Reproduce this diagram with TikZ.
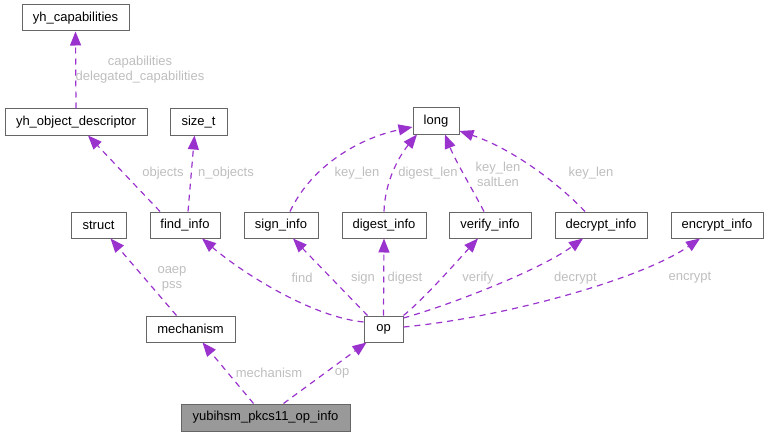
\documentclass[tikz,border=0pt]{standalone}
\usepackage{fontspec}
\setmainfont{Liberation Sans}
\usetikzlibrary{arrows.meta}
\definecolor{edgec}{HTML}{9A32CD}
\definecolor{boxc}{HTML}{666666}
\definecolor{lblc}{HTML}{BEBEBE}
\definecolor{mainfill}{HTML}{999999}
\tikzset{
  box/.style={draw=boxc, fill=white, line width=1pt, minimum height=26pt, inner sep=0pt,
    font=\fontsize{13}{15}\selectfont},
  mainbox/.style={box, fill=mainfill},
  edge/.style={draw=edgec, line width=1.2pt, dash pattern=on 6pt off 5pt,
    -{Triangle[length=14pt,width=11pt,fill=edgec]}},
  lbl/.style={text=lblc, font=\fontsize{13}{15}\selectfont, align=center, inner sep=0pt}
}
\begin{document}
\begin{tikzpicture}[x=1pt,y=-1pt]
\useasboundingbox (0,0) rectangle (769,436);
% nodes
\node[box, minimum width=107pt] (caps) at (75.5,18) {yh\_capabilities};
\node[box, minimum width=142pt] (objdesc) at (76,122) {yh\_object\_descriptor};
\node[box, minimum width=57pt] (sizet) at (198.5,122) {size\_t};
\node[box, minimum width=46pt] (long) at (436,121) {long};
\node[box, minimum width=55pt] (struct) at (98.5,225) {struct};
\node[box, minimum width=70pt] (find) at (185,225) {find\_info};
\node[box, minimum width=74pt] (sign) at (281,225) {sign\_info};
\node[box, minimum width=84pt] (digest) at (384,225) {digest\_info};
\node[box, minimum width=82pt] (verify) at (490,225) {verify\_info};
\node[box, minimum width=92pt] (decrypt) at (601,225) {decrypt\_info};
\node[box, minimum width=92pt] (encrypt) at (717,225) {encrypt\_info};
\node[box, minimum width=89pt] (mech) at (190.5,329) {mechanism};
\node[box, minimum width=39pt] (op) at (383.5,329) {op};
\node[mainbox, minimum width=169pt, minimum height=27pt] (opinfo) at (265.5,417.5) {yubihsm\_pkcs11\_op\_info};
% edges
\draw[edge] (objdesc.north) -- (caps.south);
\draw[edge] ([xshift=-25pt]find.north) -- ([xshift=12pt]objdesc.south);
\draw[edge] ([xshift=3pt]find.north) -- ([xshift=-4pt]sizet.south);
\draw[edge] ([xshift=9pt]sign.north) .. controls (312,165) and (360,138) .. ([yshift=-6pt]long.west);
\draw[edge] (digest.north) .. controls (385,180) and (400,155) .. ([xshift=-19pt]long.south);
\draw[edge] ([xshift=-6pt]verify.north) .. controls (470,185) and (455,160) .. ([xshift=9pt]long.south);
\draw[edge] ([xshift=-16pt]decrypt.north) .. controls (555,180) and (510,148) .. ([yshift=-10pt]long.east);
\draw[edge] ([xshift=-14pt]mech.north) -- ([xshift=12pt]struct.south);
\draw[edge] ([yshift=7pt]op.west) .. controls (313,317) and (245,275) .. ([xshift=17pt]find.south);
\draw[edge] ([xshift=-16pt]op.north) -- ([xshift=12pt]sign.south);
\draw[edge] (op.north) -- (digest.south);
\draw[edge] (op.north east) .. controls (425,298) and (460,258) .. ([xshift=-12pt]verify.south);
\draw[edge] ([yshift=11pt]op.east) .. controls (450,305) and (540,270) .. ([xshift=-18pt]decrypt.south);
\draw[edge] ([yshift=2pt]op.east) .. controls (500,318) and (640,280) .. ([xshift=-17pt]encrypt.south);
\draw[edge] ([xshift=-12pt]opinfo.north) -- ([xshift=12pt]mech.south);
\draw[edge] ([xshift=18pt]opinfo.north) -- ([xshift=-17pt]op.south);
% labels
\node[lbl] (l1) at (140,70) {capabilities\\delegated\_capabilities};
\node[lbl] (l2) at (163,173) {objects};
\node[lbl] (l3) at (226,173) {n\_objects};
\node[lbl] (l4) at (357,173) {key\_len};
\node[lbl] (l5) at (428,173) {digest\_len};
\node[lbl] (l6) at (498,174) {key\_len\\saltLen};
\node[lbl] (l7) at (591,173) {key\_len};
\node[lbl] (l8) at (172,278.5) {oaep\\pss};
\node[lbl] (l9) at (302,278) {find};
\node[lbl] (l10) at (363,278) {sign};
\node[lbl] (l11) at (405,278) {digest};
\node[lbl] (l12) at (478,278) {verify};
\node[lbl] (l13) at (575.5,278) {decrypt};
\node[lbl] (l14) at (690,278) {encrypt};
\node[lbl] (l15) at (269,373) {mechanism};
\node[lbl] (l16) at (342,373) {op};
\end{tikzpicture}
\end{document}
